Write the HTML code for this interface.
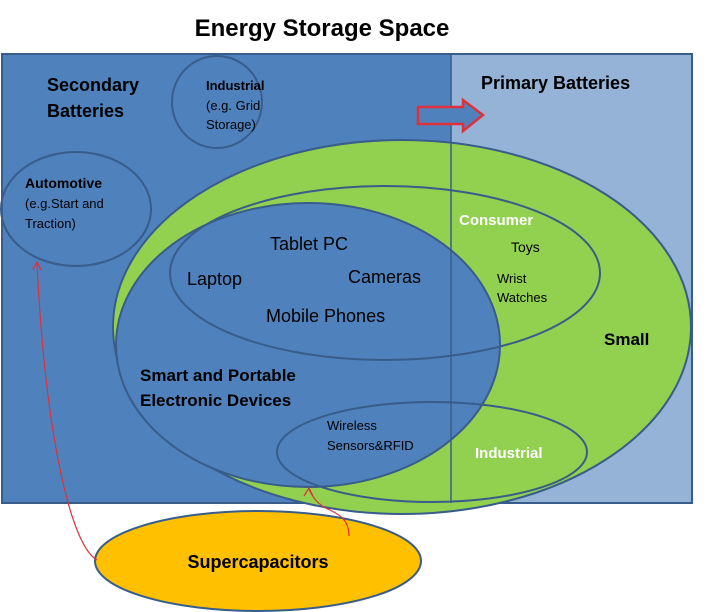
<!DOCTYPE html>
<html><head><style>body{margin:0;background:#fff}svg{display:block}text{font-family:"Liberation Sans",sans-serif}</style></head><body>
<svg width="718" height="612" viewBox="0 0 718 612">
<text x="322" y="36" font-size="24" font-weight="bold" text-anchor="middle" fill="#000">Energy Storage Space</text>
<rect x="2" y="54" width="449" height="449" fill="#4f81bd"/>
<rect x="451" y="54" width="241" height="449" fill="#95b3d7"/>
<rect x="2" y="54" width="690" height="449" fill="none" stroke="#385d8a" stroke-width="2"/>
<ellipse cx="402" cy="327" rx="289" ry="187" fill="#92d050" stroke="#385d8a" stroke-width="2"/>
<ellipse cx="308" cy="345" rx="192" ry="142" fill="#4f81bd" stroke="#385d8a" stroke-width="2"/>
<ellipse cx="385" cy="273" rx="215" ry="87" fill="none" stroke="#385d8a" stroke-width="2"/>
<ellipse cx="432" cy="452" rx="155" ry="50" fill="none" stroke="#385d8a" stroke-width="2"/>
<line x1="451" y1="54" x2="451" y2="503" stroke="#385d8a" stroke-width="1.5"/>
<ellipse cx="217" cy="102" rx="45" ry="46" fill="none" stroke="#385d8a" stroke-width="2"/>
<ellipse cx="76" cy="209" rx="75" ry="57" fill="none" stroke="#385d8a" stroke-width="2"/>
<path d="M418 107 H463 V100 L483 115 L463 131 V124 H418 Z" fill="#4f81bd" stroke="#e0303a" stroke-width="2.5"/>
<ellipse cx="258" cy="561" rx="163" ry="50" fill="#ffc000" stroke="#385d8a" stroke-width="2"/>
<path d="M97 560 C70 545 45 430 37 263" fill="none" stroke="#e0303a" stroke-width="1.2"/>
<path d="M33 270 L37 262 L41 270" fill="none" stroke="#e0303a" stroke-width="1.2"/>
<path d="M349 536 C349 520 340 515 330 510 C318 505 313 498 309 489" fill="none" stroke="#e0303a" stroke-width="1.2"/>
<path d="M304 496 L309 488 L313 496" fill="none" stroke="#e0303a" stroke-width="1.2"/>
<g font-weight="bold" fill="#000">
<text x="47" y="91" font-size="18">Secondary</text>
<text x="47" y="117" font-size="18">Batteries</text>
<text x="481" y="89" font-size="18">Primary Batteries</text>
<text x="206" y="90" font-size="13">Industrial</text>
<text x="25" y="188" font-size="14">Automotive</text>
<text x="604" y="345" font-size="17">Small</text>
<text x="140" y="381" font-size="17">Smart and Portable</text>
<text x="140" y="406" font-size="17">Electronic Devices</text>
<text x="258" y="568" font-size="18" text-anchor="middle">Supercapacitors</text>
</g>
<g fill="#000">
<text x="206" y="110" font-size="13">(e.g. Grid</text>
<text x="206" y="129" font-size="13">Storage)</text>
<text x="25" y="208" font-size="13">(e.g.Start and</text>
<text x="25" y="228" font-size="13">Traction)</text>
<text x="270" y="250" font-size="18">Tablet PC</text>
<text x="187" y="285" font-size="18">Laptop</text>
<text x="348" y="283" font-size="18">Cameras</text>
<text x="266" y="322" font-size="18">Mobile Phones</text>
<text x="511" y="252" font-size="14">Toys</text>
<text x="497" y="283" font-size="13">Wrist</text>
<text x="497" y="302" font-size="13">Watches</text>
<text x="327" y="430" font-size="13">Wireless</text>
<text x="327" y="450" font-size="13">Sensors&amp;RFID</text>
</g>
<g font-weight="bold" fill="#fff">
<text x="459" y="225" font-size="15">Consumer</text>
<text x="475" y="458" font-size="15">Industrial</text>
</g>
</svg>
</body></html>
